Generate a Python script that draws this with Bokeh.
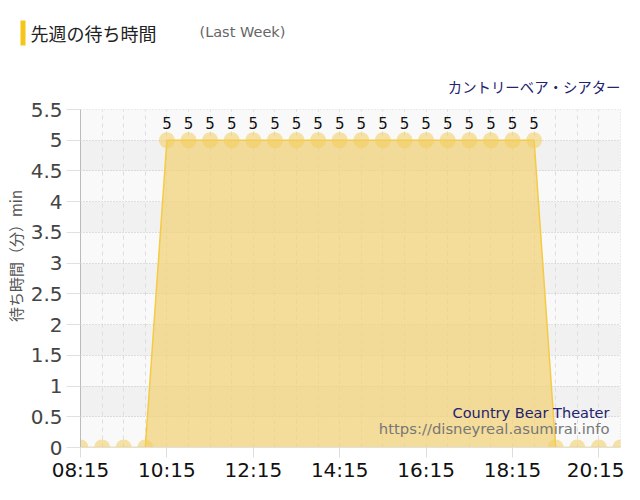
from bokeh.plotting import figure
from bokeh.layouts import column
from bokeh.models import (Range1d, FixedTicker, Label, BoxAnnotation, ColumnDataSource)
from bokeh.core.properties import value
from bokeh.embed import file_html
from bokeh.resources import INLINE

times = ["08:15", "08:45", "09:15", "09:45", "10:15", "10:45", "11:15", "11:45",
         "12:15", "12:45", "13:15", "13:45", "14:15", "14:45", "15:15", "15:45",
         "16:15", "16:45", "17:15", "17:45", "18:15", "18:45", "19:15", "19:45",
         "20:15", "20:45"]
waits = [0, 0, 0, 0, 5, 5, 5, 5, 5, 5, 5, 5, 5, 5, 5, 5, 5, 5, 5, 5, 5, 5, 0, 0, 0, 0]
tick_labels = ["08:15", "10:15", "12:15", "14:15", "16:15", "18:15", "20:15"]
y_ticks = [0, 0.5, 1, 1.5, 2, 2.5, 3, 3.5, 4, 4.5, 5, 5.5]

title_text = "先週の待ち時間"
title_sub = "(Last Week)"
attraction_jp = "カントリーベア・シアター"
attraction_en = "Country Bear Theater"
site_url = "https://disneyreal.asumirai.info"
y_label = "\u3000\u3000\u3000待ち時間（分）min"

def to_h(t):
    h, m = t.split(":")
    return int(h) + int(m) / 60.0

xs = [to_h(t) for t in times]
tick_pos = [to_h(t) for t in tick_labels]

W = 624
HEAD_H = 96

# ---------- header strip (pixel coordinates, y downwards) ----------
head = figure(width=W, height=HEAD_H, output_backend="svg", toolbar_location=None,
              x_range=Range1d(0, W), y_range=Range1d(HEAD_H, 0),
              min_border=0, min_border_left=0, min_border_right=0,
              min_border_top=0, min_border_bottom=0)
head.frame_align = False
head.axis.visible = False
head.grid.visible = False
head.outline_line_color = None
head.background_fill_color = "#ffffff"
head.border_fill_color = "#ffffff"
head.add_layout(BoxAnnotation(left=20, right=25, top=20, bottom=45,
                              fill_color="#f5c518", fill_alpha=1, line_alpha=0))
head.add_layout(Label(x=30, y=32, text=title_text, text_font="Noto Sans CJK JP",
                      text_font_size="18px", text_color="#222222", text_baseline="middle"))
head.add_layout(Label(x=199, y=31, text=title_sub, text_font="DejaVu Sans",
                      text_font_size="14.5px", text_color="#666666", text_baseline="middle"))
head.add_layout(Label(x=620, y=86, text=attraction_jp, text_font="Noto Sans CJK JP",
                      text_font_size="14.4px", text_color="#232370", text_baseline="middle",
                      text_align="right"))

# ---------- main chart ----------
p = figure(width=W, height=500 - 16 - HEAD_H, output_backend="svg", toolbar_location=None,
           x_range=Range1d(xs[0], xs[-1]), y_range=Range1d(0, 5.5),
           min_border_left=80, min_border_right=4, min_border_top=109 - HEAD_H,
           min_border_bottom=34)
p.frame_align = False
p.background_fill_color = "#ffffff"
p.border_fill_color = "#ffffff"
p.outline_line_color = "#cccccc"
p.outline_line_dash = "1 2"

# alternating bands
for i in range(len(y_ticks) - 1):
    col = "#f9f9f9" if (len(y_ticks) - 2 - i) % 2 == 0 else "#f1f1f1"
    p.add_layout(BoxAnnotation(bottom=y_ticks[i], top=y_ticks[i + 1], fill_color=col,
                               fill_alpha=1, line_alpha=0, level="image"))

src = ColumnDataSource(dict(x=xs, y=waits, lbl=[str(w) if w > 0 else "" for w in waits]))
p.varea(x="x", y1=0, y2="y", source=src, fill_color="#f2d27a", fill_alpha=0.75)
p.line(x="x", y="y", source=src, line_color="#f5cb45", line_width=1.5)
p.scatter(x="x", y="y", source=src, size=16, fill_color="#f2cd5c", fill_alpha=0.55, line_alpha=0)
p.text(x="x", y="y", text="lbl", source=src, text_align="center", text_baseline="bottom",
       y_offset=-11, text_font=value("DejaVu Sans"), text_font_size="15px", text_color="#111111")

# grids
p.xgrid.ticker = FixedTicker(ticks=xs)
p.xgrid.grid_line_color = "#dddddd"
p.xgrid.grid_line_dash = "4 4"
p.xgrid.level = "underlay"
p.ygrid.ticker = FixedTicker(ticks=y_ticks)
p.ygrid.grid_line_color = "#c4c4c4"
p.ygrid.grid_line_dash = "1 2"
p.ygrid.level = "underlay"

# axes
p.xaxis.ticker = FixedTicker(ticks=tick_pos)
p.xaxis.major_label_overrides = {tp: lb for tp, lb in zip(tick_pos, tick_labels)}
p.xaxis.major_label_text_font = "DejaVu Sans"
p.xaxis.major_label_text_font_size = "20px"
p.xaxis.major_label_text_color = "#111111"
p.xaxis.axis_line_color = "#e0e0e0"
p.xaxis.major_tick_line_color = "#dddddd"
p.xaxis.major_tick_out = 10
p.xaxis.major_tick_in = 0
p.xaxis.minor_tick_line_color = None
p.xaxis.major_label_standoff = 0

p.yaxis.ticker = FixedTicker(ticks=y_ticks)
p.yaxis.major_label_overrides = {t: (str(int(t)) if t == int(t) else str(t)) for t in y_ticks}
p.yaxis.major_label_text_font = "DejaVu Sans"
p.yaxis.major_label_text_font_size = "20px"
p.yaxis.major_label_text_color = "#444444"
p.yaxis.axis_line_color = "#bbbbbb"
p.yaxis.major_tick_line_color = "#e0e0e0"
p.yaxis.major_tick_out = 14
p.yaxis.major_tick_in = 0
p.yaxis.minor_tick_line_color = None
p.yaxis.major_label_standoff = 4
p.yaxis.axis_label = y_label
p.yaxis.axis_label_text_font = "Noto Sans CJK JP"
p.yaxis.axis_label_text_font_style = "normal"
p.yaxis.axis_label_text_font_size = "15px"
p.yaxis.axis_label_text_color = "#555555"
p.yaxis.axis_label_standoff = 2

# credits inside the plot area (screen units from the frame's bottom-left corner)
p.add_layout(Label(x=529, y=35, x_units="screen", y_units="screen", text=attraction_en,
                   text_font="DejaVu Sans", text_font_size="14.5px", text_color="#232370",
                   text_baseline="middle", text_align="right"))
p.add_layout(Label(x=529, y=19, x_units="screen", y_units="screen", text=site_url,
                   text_font="DejaVu Sans", text_font_size="14.8px", text_color="#777777",
                   text_baseline="middle", text_align="right"))

layout = column(head, p, spacing=0)
open("out.html", "w").write(file_html(layout, INLINE))
